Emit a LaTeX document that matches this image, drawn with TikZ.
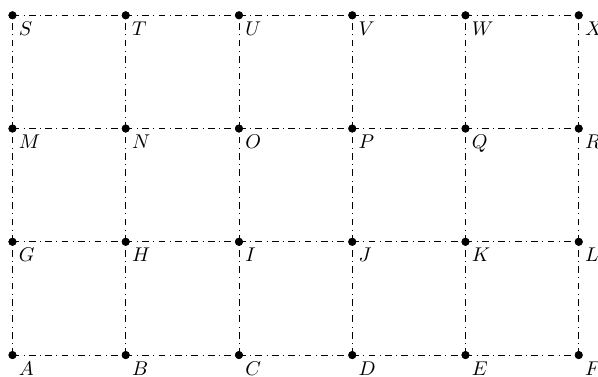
\documentclass[tikz,border=0pt]{standalone}
\begin{document}
\begin{tikzpicture}[
  dot/.style={circle,fill=black,inner sep=0pt,minimum size=4pt},
  gridline/.style={line width=0.45pt,dash pattern=on 3.4pt off 2.2pt on 0.45pt off 2.2pt},
  lab/.style={anchor=north west,inner sep=3pt}
]
\useasboundingbox (-0.22,-0.37) rectangle (10.34,6.27);
\foreach \n/\x/\y in {A/0/0,B/2/0,C/4/0,D/6/0,E/8/0,F/10/0,
                      G/0/2,H/2/2,I/4/2,J/6/2,K/8/2,L/10/2,
                      M/0/4,N/2/4,O/4/4,P/6/4,Q/8/4,R/10/4,
                      S/0/6,T/2/6,U/4/6,V/6/6,W/8/6,X/10/6}{
  \node[dot] (\n) at (\x,\y) {};
  \node[lab] (l\n) at (\x,\y) {$\n$};
}
% horizontal lines
\foreach \a/\b in {A/B,B/C,C/D,D/E,E/F,G/H,H/I,I/J,J/K,K/L,
                   M/N,N/O,O/P,P/Q,Q/R,S/T,T/U,U/V,V/W,W/X}{
  \draw[gridline] (\a.center) -- (\b.center);
}
% vertical lines
\foreach \a/\b in {A/G,G/M,M/S,B/H,H/N,N/T,C/I,I/O,O/U,
                   D/J,J/P,P/V,E/K,K/Q,Q/W,F/L,L/R,R/X}{
  \draw[gridline] (\a.center) -- (\b.center);
}
\foreach \n in {A,B,C,D,E,F,G,H,I,J,K,L,M,N,O,P,Q,R,S,T,U,V,W,X}{
  \fill (\n) circle (2pt);
}
\end{tikzpicture}
\end{document}
